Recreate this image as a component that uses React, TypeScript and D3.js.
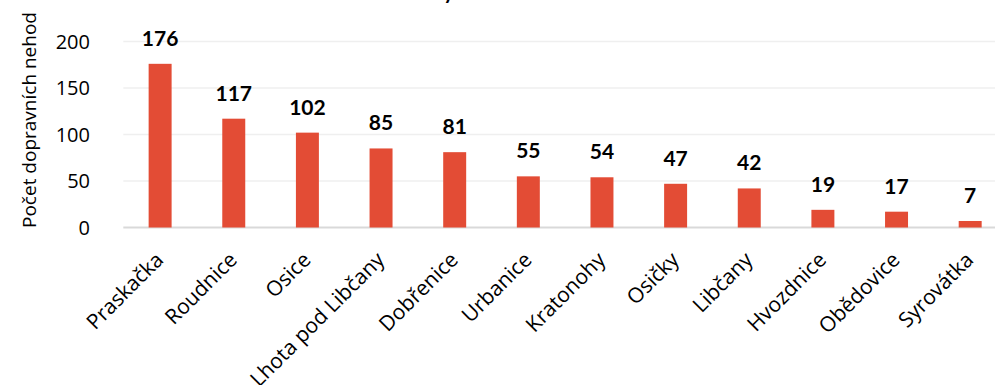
import React from "react";
import * as d3 from "d3";

const categories = ["Praskačka", "Roudnice", "Osice", "Lhota pod Libčany", "Dobřenice", "Urbanice", "Kratonohy", "Osičky", "Libčany", "Hvozdnice", "Obědovice", "Syrovátka"];
const values = [176, 117, 102, 85, 81, 55, 54, 47, 42, 19, 17, 7];
const yTicks = [0, 50, 100, 150, 200];
const yLabel = "Počet dopravních nehod";
const titleText = "Nehody";

const W = 995;
const H = 385;
const left = 123.3;
const right = 1007;
const yTop = 41.5;
const yBottom = 227.5;

export default function App() {
  const x = d3.scaleBand<string>().domain(categories).range([left, right]).paddingInner(0.688).paddingOuter(0.344);
  const y = d3.scaleLinear().domain([0, 200]).range([yBottom, yTop]);
  const bw = x.bandwidth();
  return (
    <svg width={W} height={H} style={{ position: "absolute", left: 0, top: 0, background: "#fff" }}>
      <text x={454} y={-1} textAnchor="end" fontFamily="Lato, sans-serif" fontWeight={700} fontSize={20} fill="#000">{titleText}</text>
      {yTicks.map((t) => (
        <g key={t}>
          <line x1={left} x2={W} y1={y(t)} y2={y(t)} stroke={t === 0 ? "#d9d9d9" : "#efefef"} strokeWidth={t === 0 ? 2 : 1.5} />
          <text x={90} y={y(t)} dy="0.36em" textAnchor="end" fontFamily="Open Sans, sans-serif" fontSize={20} fill="#000">{t}</text>
        </g>
      ))}
      <text transform={`translate(29, ${(10 + 230) / 2}) rotate(-90)`} textAnchor="middle" dominantBaseline="central" fontFamily="Open Sans, sans-serif" fontSize={19} fill="#000">{yLabel}</text>
      {categories.map((c, i) => {
        const cx = (x(c) as number) + bw / 2;
        return (
          <g key={c}>
            <rect x={x(c) as number} y={y(values[i])} width={bw} height={yBottom - y(values[i])} fill="#E34C35" />
            <text x={cx} y={y(values[i]) - 18} textAnchor="middle" fontFamily="Lato, sans-serif" fontWeight={700} fontSize={21} fill="#000">{values[i]}</text>
            <text transform={`translate(${cx - 1}, ${yBottom + 28}) rotate(-45)`} textAnchor="end" dominantBaseline="central" fontFamily="Open Sans, sans-serif" fontSize={21} fill="#000">{c}</text>
          </g>
        );
      })}
    </svg>
  );
}
